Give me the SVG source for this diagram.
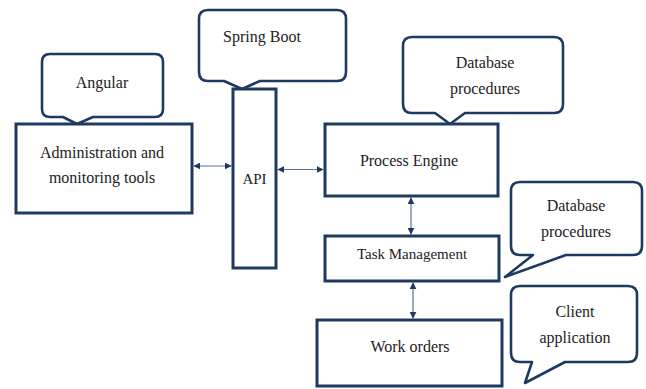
<svg xmlns="http://www.w3.org/2000/svg" width="646" height="389" viewBox="0 0 646 389">
  <style>
    .box { fill: #ffffff; stroke: #1f3a60; stroke-width: 3; }
    .call { fill: #ffffff; stroke: #1f3a60; stroke-width: 2.6; stroke-linejoin: round; }
    text { font-family: "Liberation Serif", "Times New Roman", "DejaVu Serif", serif; font-size: 16px; fill: #222222; text-anchor: middle; }
    .sm { font-size: 15px; }
    .link { stroke: #5a7396; stroke-width: 1.2; fill: none; marker-start: url(#ah); marker-end: url(#ah); }
  </style>
  <defs>
    <marker id="ah" viewBox="0 0 10 10" refX="9" refY="5" markerWidth="7" markerHeight="7" markerUnits="userSpaceOnUse" orient="auto-start-reverse">
      <path d="M0,0 L10,5 L0,10 z" fill="#1f3a60"/>
    </marker>
  </defs>

  <rect width="646" height="389" fill="#ffffff"/>

  <!-- callouts -->
  <g id="callout-angular">
    <path class="call" d="M50,54 H155 Q163,54 163,62 V109 Q163,117 155,117 H93 L77,124 L63,117 H50 Q42,117 42,109 V62 Q42,54 50,54 Z"/>
    <text x="102" y="88" font-family="Liberation Serif, serif">Angular</text>
  </g>

  <g id="callout-spring">
    <path class="call" d="M208,10 H337 Q346,10 346,19 V72 Q346,81 337,81 H260 L242,89 L224,81 H208 Q199,81 199,72 V19 Q199,10 208,10 Z"/>
    <text x="262" y="42" font-family="Liberation Serif, serif">Spring Boot</text>
  </g>

  <g id="callout-db1">
    <path class="call" d="M412,37 H554 Q563,37 563,46 V104 Q563,113 554,113 H465 L450,124 L435,113 H412 Q403,113 403,104 V46 Q403,37 412,37 Z"/>
    <text x="485" y="68" font-family="Liberation Serif, serif">Database</text>
    <text x="485" y="94" font-family="Liberation Serif, serif">procedures</text>
  </g>

  <g id="callout-db2">
    <path class="call" d="M520,182 H633 Q642,182 642,191 V246 Q642,255 633,255 H566 L505,277 L533,255 H520 Q511,255 511,246 V191 Q511,182 520,182 Z"/>
    <text x="576" y="211" font-family="Liberation Serif, serif">Database</text>
    <text x="576" y="237" font-family="Liberation Serif, serif">procedures</text>
  </g>

  <g id="callout-client">
    <path class="call" d="M520,286 H628 Q637,286 637,295 V353 Q637,362 628,362 H565 L525,383 L532,362 H520 Q511,362 511,353 V295 Q511,286 520,286 Z"/>
    <text x="575" y="317" font-family="Liberation Serif, serif">Client</text>
    <text x="575" y="343" font-family="Liberation Serif, serif">application</text>
  </g>

  <!-- nodes -->
  <g id="admin">
    <rect class="box" x="16" y="124" width="176" height="89"/>
    <text x="102" y="158" font-family="Liberation Serif, serif">Administration and</text>
    <text x="102" y="183" font-family="Liberation Serif, serif">monitoring tools</text>
  </g>

  <g id="api">
    <rect class="box" x="233" y="89" width="43" height="179"/>
    <text class="sm" x="254.5" y="184" font-family="Liberation Serif, serif">API</text>
  </g>

  <g id="process-engine">
    <rect class="box" x="325" y="124" width="173" height="72"/>
    <text x="409" y="166" font-family="Liberation Serif, serif">Process Engine</text>
  </g>

  <g id="task-management">
    <rect class="box" x="325" y="236" width="174" height="45"/>
    <text class="sm" x="412" y="259" font-family="Liberation Serif, serif">Task Management</text>
  </g>

  <g id="work-orders">
    <rect class="box" x="317" y="320" width="185" height="66"/>
    <text x="410" y="352" font-family="Liberation Serif, serif">Work orders</text>
  </g>

  <!-- connectors -->
  <g id="connectors">
    <line class="link" x1="194" y1="166" x2="231" y2="166"/>
    <line class="link" x1="278" y1="169.5" x2="323" y2="169.5"/>
    <line class="link" x1="411" y1="198" x2="411" y2="234"/>
    <line class="link" x1="413" y1="283" x2="413" y2="318"/>
  </g>
</svg>
